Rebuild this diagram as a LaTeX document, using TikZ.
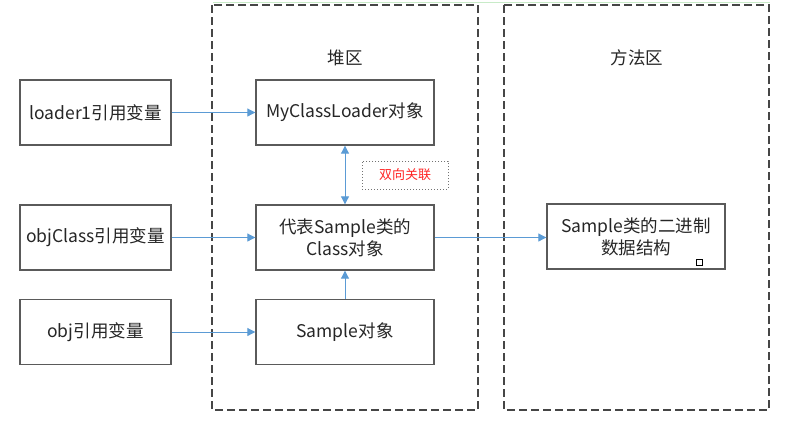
\documentclass[tikz,border=0pt]{standalone}
\usepackage{fontspec}
\setmainfont{Noto Sans CJK SC}
\usetikzlibrary{arrows.meta}
\definecolor{arrowblue}{RGB}{91,155,213}
\definecolor{boxgray}{RGB}{90,90,90}
\definecolor{dashgray}{RGB}{70,70,70}
\definecolor{lgreen}{RGB}{200,235,200}
\begin{document}
\begin{tikzpicture}[x=1pt,y=-1pt,
  box/.style={draw=boxgray,line width=1.4pt,minimum width=151pt,minimum height=65pt,inner sep=0pt,font=\fontsize{17.5}{22}\selectfont,align=center,text=black!85},
  hbox/.style={box,minimum width=178pt},
  region/.style={draw=dashgray,line width=2pt,dash pattern=on 8pt off 4pt},
  arr/.style={draw=arrowblue,line width=1pt,-{Triangle[length=8pt,width=8pt]}},
  darr/.style={draw=arrowblue,line width=1pt,{Triangle[length=8pt,width=8pt]}-{Triangle[length=8pt,width=8pt]}},
  lbl/.style={font=\fontsize{17.5}{22}\selectfont,text=black!85}]
\useasboundingbox (0,0) rectangle (791,421);
\fill[white] (0,0) rectangle (791,421);
\draw[lgreen,line width=1pt] (213,2) -- (770,2);
\draw[region] (212,5) rectangle (478,410);
\draw[region] (504,5) rectangle (769,410);
\node[lbl] (heap) at (345,58) {堆区};
\node[lbl] (meth) at (637,58) {方法区};
\node[box] (l1) at (95.5,112.5) {loader1引用变量};
\node[box] (oc) at (95.5,237.5) {objClass引用变量};
\node[box] (ob) at (95.5,332) {obj引用变量};
\node[hbox] (mcl) at (345,112.5) {MyClassLoader对象};
\node[hbox] (cls) at (345,237.5) {代表Sample类的\\Class对象};
\node[hbox] (smp) at (345,332) {Sample对象};
\node[hbox] (bin) at (636,236.5) {Sample类的二进制\\数据结构};
\node[draw=black!55,line width=1pt,dotted,minimum width=86pt,minimum height=28pt,inner sep=0pt,text=red!85,font=\fontsize{13}{15}\selectfont] (rel) at (405,175) {双向关联};
\node[draw=black,line width=0.8pt,minimum size=6pt,inner sep=0pt] (sq) at (699,262) {};
\draw[arr] (l1) -- (mcl);
\draw[arr] (oc) -- (cls);
\draw[arr] (ob) -- (smp);
\draw[darr] (mcl) -- (cls);
\draw[arr] (smp) -- (cls);
\draw[arr] (cls.east) -- (bin.west |- cls.east);
\end{tikzpicture}
\end{document}
